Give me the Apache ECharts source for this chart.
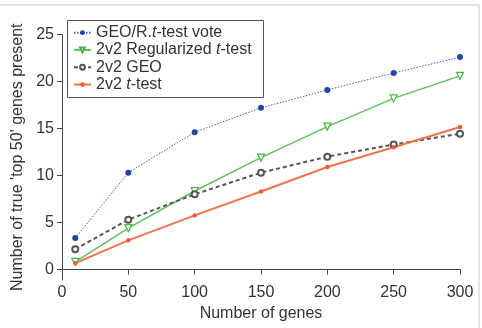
<!DOCTYPE html>
<html>
<head>
<meta charset="utf-8">
<script src="https://cdn.jsdelivr.net/npm/echarts@6/dist/echarts.min.js"></script>
<style>
  html, body { margin: 0; padding: 0; background: #fff; }
  #chart { width: 482px; height: 328px; }
</style>
</head>
<body>
<div id="chart"></div>
<script>
// number of genes
const genes = [10, 50, 100, 150, 200, 250, 300]
const voteData = [3.35, 10.3, 14.6, 17.2, 19.1, 20.9, 22.6]
const regTData = [0.8, 4.4, 8.35, 11.9, 15.2, 18.2, 20.6]
const geoData = [2.15, 5.3, 8.0, 10.3, 12.0, 13.3, 14.45]
const tTestData = [0.67, 3.1, 5.75, 8.3, 10.9, 13.0, 15.15]
const xTicks = [0, 50, 100, 150, 200, 250, 300]
const yTicks = [0, 5, 10, 15, 20, 25]

const font = 'Liberation Sans, Arial, Helvetica, sans-serif'
const axisColor = '#444'
const legendFont = { fontFamily: font, fontSize: 16, color: '#333', lineHeight: 17.3 }

function pairs(ys) {
    return genes.map((g, i) => [g, ys[i]])
}

// italic "t" as in the original figure
function legendLabel(name) {
    const parts = name.split('t-test')
    if (parts.length < 2) return '{n|' + name + '}'
    return '{n|' + parts[0] + '}{i|t}{n|-test' + parts[1] + '}'
}

const chart = echarts.init(document.getElementById('chart'), null, { renderer: 'canvas' })

chart.setOption({
    animation: false,
    backgroundColor: '#fff',
    grid: { left: 62, right: 22, top: 34.5, bottom: 48 },
    graphic: [
        {
            type: 'rect',
            shape: { x: -2, y: 5, width: 481, height: 330 },
            style: { fill: 'none', stroke: '#c8c8c8', lineWidth: 1 },
            silent: true
        },
        {
            type: 'rect',
            z: 10,
            shape: { x: 67.5, y: 20.5, width: 196, height: 77 },
            style: { fill: '#fff', stroke: '#555', lineWidth: 1 },
            silent: true
        }
    ],
    legend: {
        left: 67,
        top: 20,
        orient: 'vertical',
        z: 20,
        padding: [4, 8, 5, 6],
        itemWidth: 17,
        itemHeight: 6,
        itemGap: 0,
        data: ['GEO/R.t-test vote', '2v2 Regularized t-test', '2v2 GEO', '2v2 t-test'],
        formatter: legendLabel,
        textStyle: {
            fontFamily: font,
            fontSize: 16,
            lineHeight: 17.3,
            color: '#333',
            rich: {
                n: legendFont,
                i: Object.assign({}, legendFont, { fontStyle: 'italic' })
            }
        }
    },
    xAxis: {
        type: 'value',
        min: 0,
        max: 300,
        interval: 50,
        name: 'Number of genes',
        nameLocation: 'middle',
        nameGap: 26,
        nameTextStyle: { fontFamily: font, fontSize: 16, color: '#333' },
        axisLine: { show: true, lineStyle: { color: axisColor, width: 1 } },
        axisTick: { show: true, length: 5, lineStyle: { color: axisColor }, customValues: xTicks },
        axisLabel: { fontFamily: font, fontSize: 16, color: '#333', margin: 5, customValues: xTicks },
        splitLine: { show: false }
    },
    yAxis: {
        type: 'value',
        min: -1.12,
        max: 25,
        name: "Number of true 'top 50' genes present",
        nameLocation: 'middle',
        nameGap: 36,
        nameTextStyle: { fontFamily: font, fontSize: 16, color: '#333' },
        axisLine: { show: true, lineStyle: { color: axisColor, width: 1 } },
        axisTick: { show: true, length: 5, lineStyle: { color: axisColor }, customValues: yTicks },
        axisLabel: { fontFamily: font, fontSize: 16, color: '#333', margin: 8, customValues: yTicks },
        splitLine: { show: false }
    },
    series: [
        {
            name: 'GEO/R.t-test vote',
            type: 'line',
            data: pairs(voteData),
            symbol: 'circle',
            symbolSize: 6,
            lineStyle: { color: '#3d63c0', width: 1, type: [1.5, 1.5] },
            itemStyle: { color: '#1f45a8', borderWidth: 0 }
        },
        {
            name: '2v2 Regularized t-test',
            type: 'line',
            data: pairs(regTData),
            symbol: 'triangle',
            symbolRotate: 180,
            symbolSize: 7,
            lineStyle: { color: '#5cc35c', width: 1.5 },
            itemStyle: { color: '#fff', borderColor: '#45b545', borderWidth: 1.2 }
        },
        {
            name: '2v2 GEO',
            type: 'line',
            data: pairs(geoData),
            symbol: 'emptyCircle',
            symbolSize: 6,
            lineStyle: { color: '#555', width: 2, type: [4, 3] },
            itemStyle: { color: '#555', borderWidth: 1.3 }
        },
        {
            name: '2v2 t-test',
            type: 'line',
            data: pairs(tTestData),
            symbol: 'circle',
            symbolSize: 4.5,
            lineStyle: { color: '#f2734f', width: 2 },
            itemStyle: { color: '#ee5a3a', borderWidth: 0 }
        }
    ]
})
</script>
</body>
</html>
